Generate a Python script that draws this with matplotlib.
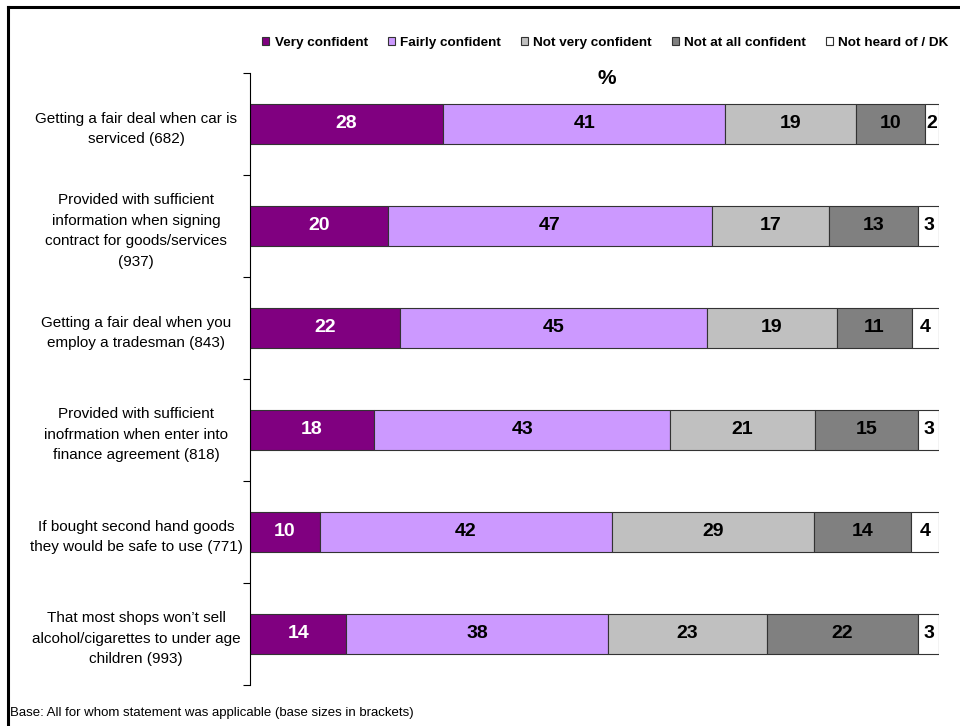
import matplotlib.pyplot as plt
import numpy as np

plt.rcParams['font.family'] = ['Liberation Sans', 'DejaVu Sans']

categories = [
    "Getting a fair deal when car is\nserviced (682)",
    "Provided with sufficient\ninformation when signing\ncontract for goods/services\n(937)",
    "Getting a fair deal when you\nemploy a tradesman (843)",
    "Provided with sufficient\ninofrmation when enter into\nfinance agreement (818)",
    "If bought second hand goods\nthey would be safe to use (771)",
    "That most shops won\u2019t sell\nalcohol/cigarettes to under age\nchildren (993)",
]
series_names = ["Very confident", "Fairly confident", "Not very confident",
                "Not at all confident", "Not heard of / DK"]
very = [28, 20, 22, 18, 10, 14]
fairly = [41, 47, 45, 43, 42, 38]
not_very = [19, 17, 19, 21, 29, 23]
not_at_all = [10, 13, 11, 15, 14, 22]
not_heard = [2, 3, 4, 3, 4, 3]

colors = ["#800080", "#CC99FF", "#C0C0C0", "#808080", "#FFFFFF"]
text_colors = ["white", "black", "black", "black", "black"]

fig = plt.figure(figsize=(9.6, 7.26), dpi=100)
ax = fig.add_axes([250 / 960, 1 - 685 / 726, 689 / 960, 612 / 726])

all_series = [very, fairly, not_very, not_at_all, not_heard]
totals = np.sum(np.array(all_series, dtype=float), axis=0)

# 100% stacked bars, labels show the reported values
y = np.arange(len(categories))
left = np.zeros(len(categories))
for name, vals, c, tc in zip(series_names, all_series, colors, text_colors):
    vals = np.array(vals, dtype=float)
    widths = vals / totals * 100
    bars = ax.barh(y, widths, left=left, height=0.4, color=c, edgecolor="#333333",
                   linewidth=0.8, label=name)
    for b, v in zip(bars, vals):
        cx = b.get_x() + b.get_width() / 2
        ax.text(cx, b.get_y() + b.get_height() / 2, f"{int(v)}", ha="center", va="center",
                color=tc, fontsize=14, fontweight="bold")
    left += widths

ax.set_xlim(0, 100)
ax.set_ylim(len(categories) - 0.5, -0.5)
ax.set_yticks(y)
ax.set_yticklabels(categories, fontsize=11, ha="center", linespacing=1.6)
ax.tick_params(axis="y", which="major", length=0, pad=82)
ax.set_yticks(np.arange(-0.5, len(categories)), minor=True)
ax.tick_params(axis="y", which="minor", length=5, width=0.8, direction="out")
ax.set_xticks([])
for s in ["top", "right", "bottom"]:
    ax.spines[s].set_visible(False)
ax.spines["left"].set_linewidth(0.8)

fig.text(607 / 960, 1 - 79 / 726, "%", ha="center", va="center",
         fontsize=15, fontweight="bold")

leg = fig.legend(loc="center left", bbox_to_anchor=(257 / 960, 1 - 43 / 726), ncol=5,
                 frameon=False, fontsize=9.7, handlelength=0.5, handleheight=0.5,
                 handletextpad=0.4, columnspacing=1.5, borderaxespad=0)
for t in leg.get_texts():
    t.set_fontweight("bold")

fig.text(10 / 960, 1 - 713 / 726, "Base: All for whom statement was applicable (base sizes in brackets)",
         fontsize=9.5, va="center", ha="left")

# frame lines (top and left only visible)
fig.add_artist(plt.Line2D([8 / 960, 1], [1 - 7 / 726, 1 - 7 / 726], color="black", lw=2.2))
fig.add_artist(plt.Line2D([8 / 960, 8 / 960], [0, 1 - 7 / 726], color="black", lw=2.2))

fig.savefig("out.png", dpi=100)
